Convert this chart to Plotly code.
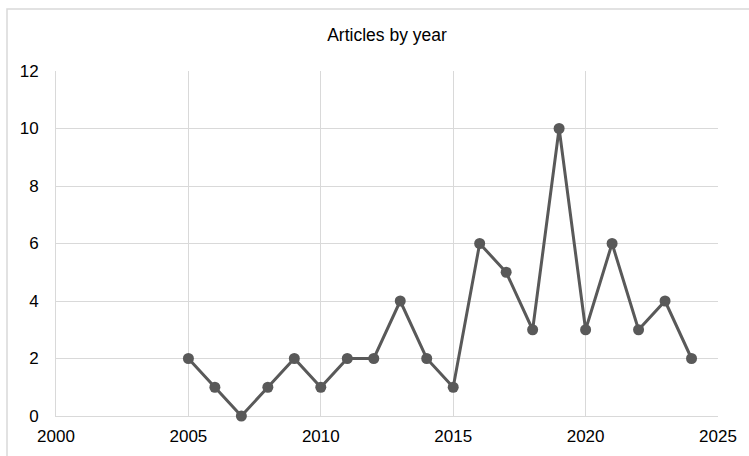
import plotly.graph_objects as go

years = [2005, 2006, 2007, 2008, 2009, 2010, 2011, 2012, 2013, 2014,
         2015, 2016, 2017, 2018, 2019, 2020, 2021, 2022, 2023, 2024]
articles = [2, 1, 0, 1, 2, 1, 2, 2, 4, 2, 1, 6, 5, 3, 10, 3, 6, 3, 4, 2]
title_text = "Articles by year"

W, H = 749, 456
L, R, T, B = 56, 31, 71, 40
pw, ph = W - L - R, H - T - B

fig = go.Figure()
fig.add_trace(go.Scatter(
    x=years, y=articles, mode="lines+markers",
    line=dict(color="#595959", width=3),
    marker=dict(color="#595959", size=11),
    cliponaxis=False, showlegend=False,
))

font = dict(family="Liberation Sans, Arial, sans-serif", size=17, color="#000000")

fig.update_layout(
    width=W, height=H,
    margin=dict(l=L, r=R, t=T, b=B, autoexpand=False),
    paper_bgcolor="white", plot_bgcolor="white",
    font=font,
    title=dict(text=title_text, x=(L + pw / 2) / W, xanchor="center",
               y=1 - 35 / H, yanchor="middle", font=dict(size=17.5)),
    xaxis=dict(range=[2000, 2025], tick0=2000, dtick=5, showgrid=True,
               gridcolor="#d9d9d9", gridwidth=1, zeroline=False,
               showline=True, linecolor="#d9d9d9", linewidth=1,
               layer="below traces",
               ticks="", ticklabelstandoff=5, tickfont=font, automargin=False),
    yaxis=dict(range=[0, 12], tick0=0, dtick=2, showgrid=True,
               gridcolor="#d9d9d9", gridwidth=1, zeroline=False,
               showline=True, linecolor="#d9d9d9", linewidth=1,
               layer="below traces",
               ticks="", ticklabelstandoff=13, tickfont=font, automargin=False),
    shapes=[dict(type="rect", xref="paper", yref="paper",
                 x0=(7 - L) / pw, x1=(W + 10 - L) / pw,
                 y0=(H - B - (H + 10)) / ph, y1=(H - B - 9) / ph,
                 line=dict(color="#d9d9d9", width=1.5), layer="below")],
)

fig.write_html("out.html")
